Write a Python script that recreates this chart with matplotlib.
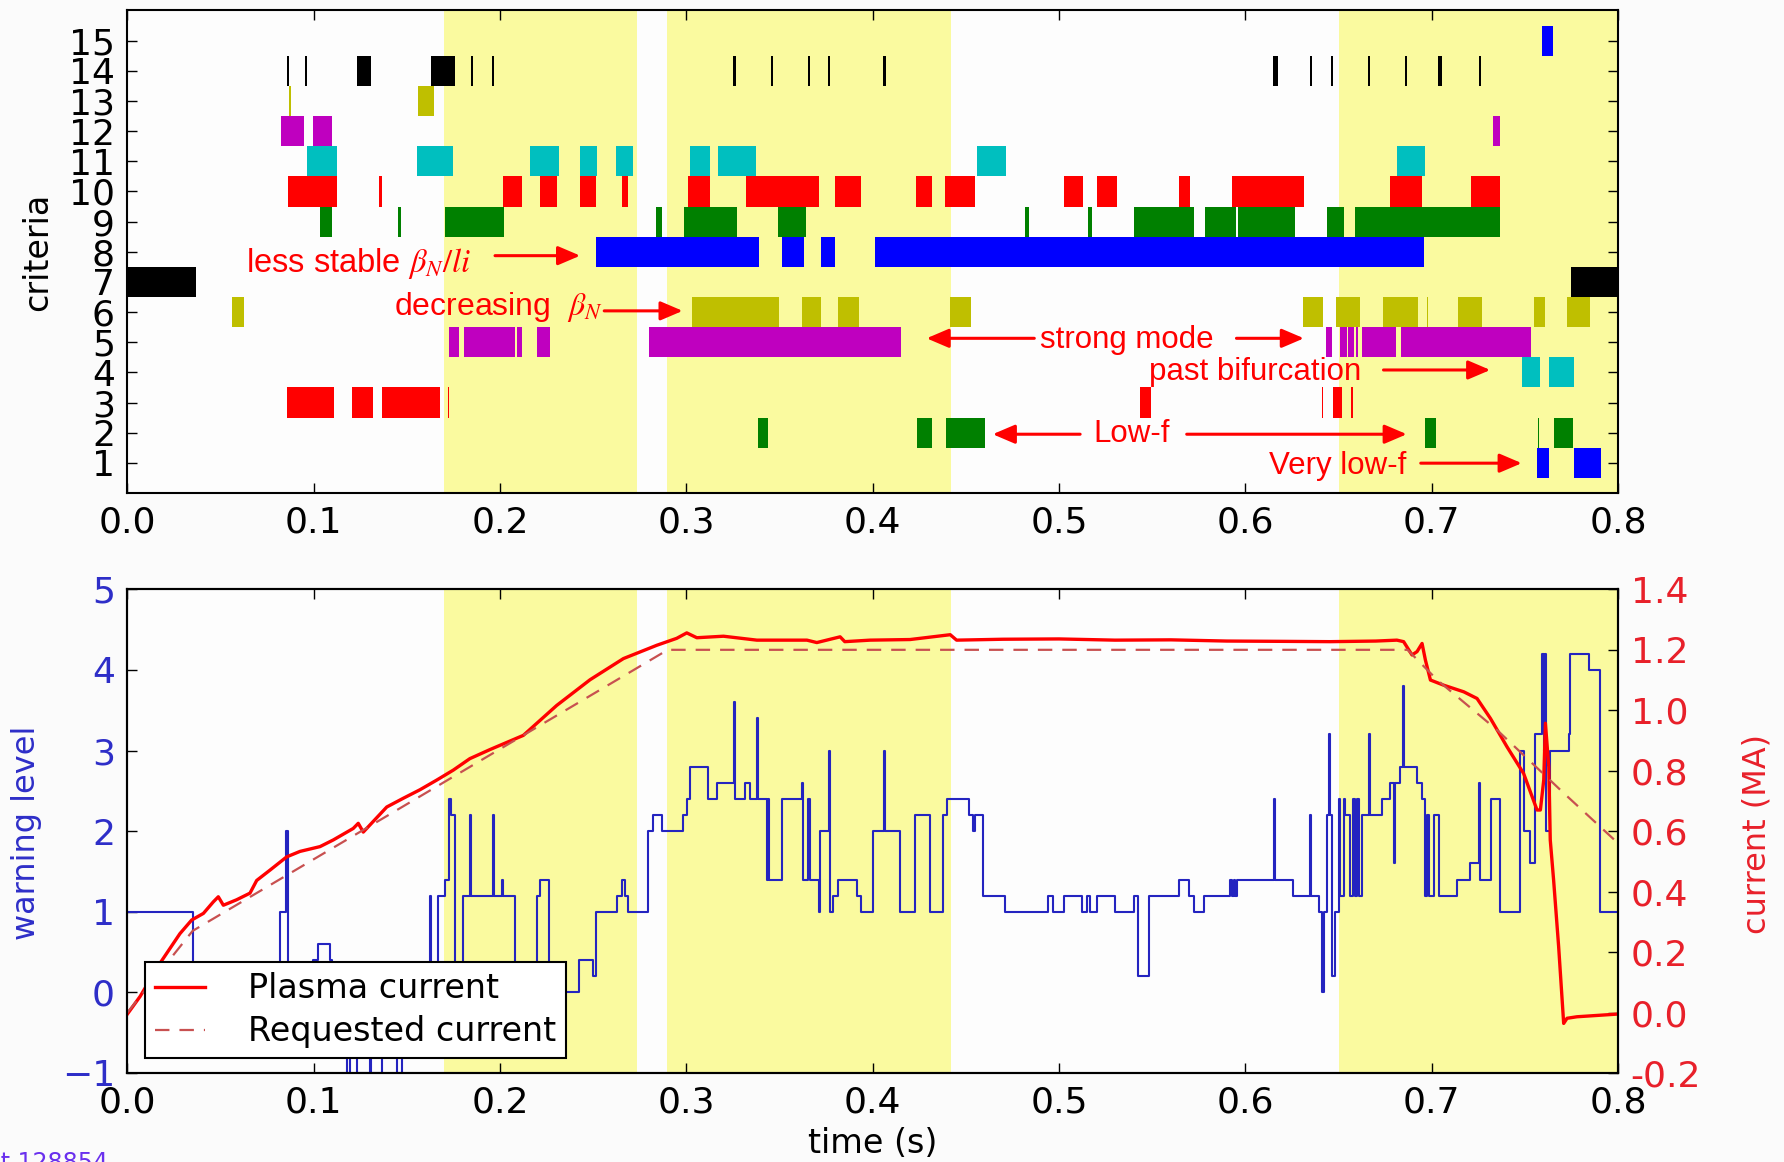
import numpy as np
import matplotlib.pyplot as plt
from matplotlib.ticker import FormatStrFormatter

plt.rcParams['mathtext.fontset'] = 'stix'
plt.rcParams['axes.unicode_minus'] = True

# shaded time windows (s)
shaded = [(0.170, 0.2736), (0.2895, 0.442), (0.650, 0.8)]

# criteria activity, (start, end) in seconds, one list per criterion
crit1 = [(0.7565, 0.7631), (0.7761, 0.7908)]
crit2 = [(0.3383, 0.3440), (0.4240, 0.4317), (0.4394, 0.4603), (0.6965, 0.7023),
         (0.7569, 0.7577), (0.7658, 0.7758)]
crit3 = [(0.0855, 0.1111), (0.1204, 0.1320), (0.1365, 0.1678), (0.1718, 0.1728),
         (0.5435, 0.5494), (0.6411, 0.6419), (0.6468, 0.6521), (0.6568, 0.6576)]
crit4 = [(0.7484, 0.7579), (0.7627, 0.7761)]
crit5 = [(0.1728, 0.1782), (0.1807, 0.2080), (0.2093, 0.2116), (0.2200, 0.2268),
         (0.2802, 0.4151), (0.6434, 0.6464), (0.6505, 0.6545), (0.6552, 0.6584),
         (0.6594, 0.6602), (0.6625, 0.6808), (0.6835, 0.7534)]
crit6 = [(0.0560, 0.0626), (0.3029, 0.3499), (0.3623, 0.3723), (0.3813, 0.3927),
         (0.4416, 0.4527), (0.6308, 0.6414), (0.6486, 0.6613), (0.6741, 0.6926),
         (0.6972, 0.6982), (0.7139, 0.7269), (0.7550, 0.7609), (0.7726, 0.7847)]
crit7 = [(0.0, 0.0368), (0.7747, 0.8)]
crit8 = [(0.2515, 0.3392), (0.3512, 0.3633), (0.3723, 0.3798), (0.4013, 0.6960)]
crit9 = [(0.1034, 0.1098), (0.1454, 0.1469), (0.1707, 0.2022), (0.2836, 0.2871),
         (0.2988, 0.3270), (0.3494, 0.3643), (0.4818, 0.4839), (0.5155, 0.5176),
         (0.5400, 0.5722), (0.5784, 0.5950), (0.5962, 0.6267), (0.6437, 0.6530),
         (0.6586, 0.7364)]
crit10 = [(0.0860, 0.1123), (0.1352, 0.1368), (0.2014, 0.2117), (0.2215, 0.2304),
          (0.2429, 0.2515), (0.2653, 0.2689), (0.3007, 0.3124), (0.3319, 0.3712),
          (0.3798, 0.3936), (0.4233, 0.4317), (0.4389, 0.4550), (0.5024, 0.5131),
          (0.5206, 0.5310), (0.5646, 0.5704), (0.5927, 0.6316), (0.6777, 0.6947),
          (0.7212, 0.7364)]
crit11 = [(0.0966, 0.1123), (0.1556, 0.1746), (0.2161, 0.2318), (0.2429, 0.2519),
          (0.2623, 0.2712), (0.3020, 0.3127), (0.3168, 0.3373), (0.4562, 0.4714),
          (0.6813, 0.6965)]
crit12 = [(0.0826, 0.0948), (0.0998, 0.1098), (0.7329, 0.7364)]
crit13 = [(0.0870, 0.0880), (0.1558, 0.1647)]
crit14 = [(0.0855, 0.0865), (0.0955, 0.0966), (0.1234, 0.1306), (0.1630, 0.1760),
          (0.1845, 0.1857), (0.1958, 0.1970), (0.3252, 0.3264), (0.3452, 0.3464),
          (0.3655, 0.3664), (0.3760, 0.3772), (0.4057, 0.4069), (0.6147, 0.6173),
          (0.6347, 0.6359), (0.6458, 0.6470), (0.6660, 0.6671), (0.6855, 0.6867),
          (0.7036, 0.7056), (0.7254, 0.7265)]
crit15 = [(0.7592, 0.7651)]

criteria = [crit1, crit2, crit3, crit4, crit5, crit6, crit7, crit8,
            crit9, crit10, crit11, crit12, crit13, crit14, crit15]
crit_colors = ['b', 'g', 'r', 'c', 'm', 'y', 'k'] * 3

# warning level, value holds from each time until the next one
warn_t = [0.0, 0.0354, 0.0819, 0.0850, 0.0864, 0.0995, 0.1024, 0.1087, 0.1100, 0.1180,
          0.1195, 0.1231, 0.1300, 0.1308, 0.1365, 0.1445, 0.1472, 0.1544, 0.1624, 0.1632,
          0.1669, 0.1705, 0.1728, 0.1736, 0.1760, 0.1803, 0.1839, 0.1845, 0.1960, 0.1966,
          0.2009, 0.2015, 0.2081, 0.2197, 0.2215, 0.2260, 0.2421, 0.2501, 0.2516, 0.2627,
          0.2653, 0.2671, 0.2689, 0.2796, 0.2823, 0.2868, 0.2984, 0.3002, 0.3020, 0.3118,
          0.3163, 0.3253, 0.3259, 0.3315, 0.3342, 0.3378, 0.3384, 0.3431, 0.3437, 0.3443,
          0.3512, 0.3619, 0.3625, 0.3655, 0.3661, 0.3712, 0.3718, 0.3766, 0.3771, 0.3789,
          0.3816, 0.3914, 0.3936, 0.4004, 0.4060, 0.4066, 0.4144, 0.4228, 0.4308, 0.4379,
          0.4397, 0.4514, 0.4540, 0.4549, 0.4594, 0.4710, 0.4943, 0.4970, 0.5024, 0.5122,
          0.5149, 0.5167, 0.5203, 0.5301, 0.5400, 0.5426, 0.5480, 0.5641, 0.5695, 0.5722,
          0.5776, 0.5919, 0.5930, 0.5937, 0.5946, 0.5955, 0.6151, 0.6160, 0.6258, 0.6348,
          0.6354, 0.6393, 0.6411, 0.6420, 0.6437, 0.6450, 0.6456, 0.6464, 0.6482, 0.6500,
          0.6509, 0.6527, 0.6536, 0.6563, 0.6575, 0.6590, 0.6598, 0.6607, 0.6625, 0.6661,
          0.6667, 0.6733, 0.6777, 0.6795, 0.6804, 0.6831, 0.6846, 0.6852, 0.6921, 0.6948,
          0.6966, 0.6975, 0.6984, 0.7011, 0.7037, 0.7136, 0.7207, 0.7252, 0.7258, 0.7316,
          0.7368, 0.7475, 0.7493, 0.7529, 0.7556, 0.7592, 0.7601, 0.7606, 0.7612, 0.7636,
          0.7735, 0.7744, 0.7842, 0.7905, 0.8]
warn_lvl = [1.0, 0.2, 1.0, 2.0, 0.2, 0.4, 0.6, 0.4, 0.2, -1.0,
            -0.8, -1.0, 0.2, -1.0, -0.8, -1.0, -0.8, 0.2, 1.2, 0.2,
            1.2, 1.4, 2.4, 2.2, 0.2, 1.2, 2.2, 1.2, 2.2, 1.2,
            1.4, 1.2, 0.2, 1.2, 1.4, 0.0, 0.4, 0.2, 1.0, 1.2,
            1.4, 1.2, 1.0, 2.0, 2.2, 2.0, 2.2, 2.4, 2.8, 2.4,
            2.6, 3.6, 2.4, 2.6, 2.4, 3.4, 2.4, 1.4, 2.4, 1.4,
            2.4, 2.6, 1.4, 2.4, 1.4, 1.0, 2.0, 3.0, 1.0, 1.2,
            1.4, 1.2, 1.0, 2.0, 3.0, 2.0, 1.0, 2.2, 1.0, 2.2,
            2.4, 2.2, 2.0, 2.2, 1.2, 1.0, 1.2, 1.0, 1.2, 1.0,
            1.2, 1.0, 1.2, 1.0, 1.2, 0.2, 1.2, 1.4, 1.2, 1.0,
            1.2, 1.4, 1.2, 1.4, 1.2, 1.4, 2.4, 1.4, 1.2, 2.2,
            1.2, 1.0, 0.0, 1.0, 2.2, 3.2, 2.2, 0.2, 1.0, 2.4,
            1.2, 2.4, 2.2, 1.2, 2.4, 1.2, 2.4, 1.2, 2.2, 3.2,
            2.2, 2.4, 2.6, 1.6, 2.6, 2.8, 3.8, 2.8, 2.6, 2.4,
            1.2, 2.2, 1.2, 2.2, 1.2, 1.4, 1.6, 2.6, 1.4, 2.4,
            1.0, 3.0, 2.0, 1.6, 3.2, 4.2, 3.0, 4.2, 2.0, 3.0,
            3.2, 4.2, 4.0, 1.0, 1.0]

# measured plasma current (MA)
ip_t = [0.0, 0.0068, 0.0175, 0.0282, 0.0345, 0.0408, 0.0461, 0.0488, 0.0515, 0.0586,
        0.0658, 0.0694, 0.0765, 0.0855, 0.0926, 0.1034, 0.1105, 0.1212, 0.1239, 0.1266,
        0.1392, 0.1481, 0.1570, 0.1660, 0.1749, 0.1838, 0.1946, 0.2125, 0.2304, 0.2483,
        0.2662, 0.2841, 0.2948, 0.3002, 0.3056, 0.3199, 0.3378, 0.3647, 0.3700, 0.3825,
        0.3850, 0.3986, 0.4200, 0.4416, 0.4450, 0.4700, 0.5000, 0.5300, 0.5600, 0.5900,
        0.6200, 0.6455, 0.6700, 0.6813, 0.6849, 0.6894, 0.6921, 0.6948, 0.6966, 0.6993,
        0.7064, 0.7172, 0.7243, 0.7315, 0.7404, 0.7493, 0.7565, 0.7583, 0.7601, 0.7610,
        0.7628, 0.7636, 0.7654, 0.7681, 0.7708, 0.7726, 0.7779, 0.8]
ip = [-0.005, 0.053, 0.163, 0.261, 0.306, 0.328, 0.366, 0.383, 0.355, 0.373,
      0.395, 0.437, 0.471, 0.515, 0.533, 0.549, 0.571, 0.609, 0.626, 0.597,
      0.680, 0.709, 0.737, 0.769, 0.802, 0.840, 0.870, 0.917, 1.016, 1.101,
      1.171, 1.215, 1.238, 1.256, 1.240, 1.245, 1.232, 1.232, 1.224, 1.243,
      1.227, 1.232, 1.234, 1.250, 1.232, 1.235, 1.236, 1.232, 1.233, 1.229,
      1.228, 1.227, 1.229, 1.232, 1.227, 1.183, 1.194, 1.221, 1.166, 1.100,
      1.083, 1.061, 1.039, 0.973, 0.879, 0.791, 0.670, 0.670, 0.769, 0.957,
      0.813, 0.571, 0.438, 0.218, -0.036, -0.019, -0.014, -0.005]

# requested current (MA)
req_t = [0.0, 0.035, 0.29, 0.687, 0.703, 0.735, 0.771, 0.8]
req = [0.0, 0.27, 1.2, 1.2, 1.1, 0.935, 0.725, 0.56]

# red call-outs on the criteria panel: text, size, text x, baseline y, arrows (x_from, x_to, y)
notes = [
    (r'less stable $\beta_N/li$', 23.5, 0.0635, 7.34, [(0.1973, 0.2430, 7.87)]),
    (r'decreasing  $\beta_N$', 23.0, 0.1429, 5.90, [(0.2559, 0.2980, 6.04)]),
    ('strong mode', 22.5, 0.4898, 4.80, [(0.4867, 0.4289, 5.13), (0.5952, 0.6314, 5.13)]),
    ('past bifurcation', 22.5, 0.5484, 3.74, [(0.6741, 0.7314, 4.08)]),
    ('Low-f', 22.5, 0.5184, 1.69, [(0.5113, 0.4644, 1.95), (0.5685, 0.6866, 1.95)]),
    ('Very low-f', 22.5, 0.6129, 0.64, [(0.6941, 0.7483, 0.99)]),
]

span_color = '#fafa9f'
blue_txt = '#2e2ec8'
red_txt = '#e8202a'

fig = plt.figure(figsize=(17.84, 11.62), dpi=100)
fig.patch.set_facecolor('#fbfbfb')

# ---- criteria panel ----
ax1 = fig.add_axes([0.0714, 0.5757, 0.8356, 0.4153])
for a, b in shaded:
    ax1.axvspan(a, b, color=span_color, lw=0, zorder=0)
for k, segs in enumerate(criteria):
    ax1.broken_barh([(a, b - a) for a, b in segs], (k + 0.5, 1.0),
                    facecolors=crit_colors[k], linewidth=0, zorder=2)

for text, size, tx, ty, arrows in notes:
    ax1.text(tx, ty, text, color='red', fontsize=size, family='Liberation Sans',
             va='baseline', ha='left', zorder=5)
    for x0, x1, y in arrows:
        ax1.annotate('', xy=(x1, y), xytext=(x0, y),
                     arrowprops=dict(arrowstyle='-|>,head_length=0.75,head_width=0.32',
                                     color='red', lw=2.2, mutation_scale=18,
                                     shrinkA=0, shrinkB=0), zorder=5)

ax1.set_xlim(0, 0.8)
ax1.set_ylim(0, 16)
ax1.set_yticks(range(1, 16))
ax1.set_xticks(np.arange(0, 0.81, 0.1))
ax1.xaxis.set_major_formatter(FormatStrFormatter('%.1f'))
ax1.tick_params(direction='in', top=True, right=True, length=7, width=1,
                labelsize=26, pad=9)
ax1.set_ylabel('criteria', fontsize=24)
ax1.yaxis.set_label_coords(-0.049, 0.5)
ax1.set_facecolor('#fdfdfd')
for s in ax1.spines.values():
    s.set_linewidth(1.5)

# ---- warning level / current panel ----
ax = fig.add_axes([0.0714, 0.0766, 0.8356, 0.4162])
ax.set_facecolor('#fdfdfd')
for a, b in shaded:
    ax.axvspan(a, b, color=span_color, lw=0, zorder=0)
ax.plot(warn_t, warn_lvl, drawstyle='steps-post', color='#2424c0', lw=1.5, zorder=2)
ax.set_xlim(0, 0.8)
ax.set_ylim(-1, 5)
ax.set_xticks(np.arange(0, 0.81, 0.1))
ax.xaxis.set_major_formatter(FormatStrFormatter('%.1f'))
ax.tick_params(direction='in', top=True, right=False, length=7, width=1,
               labelsize=26, pad=9)
ax.tick_params(axis='y', labelcolor=blue_txt)
ax.set_ylabel('warning level', fontsize=23, color=blue_txt)
ax.yaxis.set_label_coords(-0.057, 0.496)
ax.set_xlabel('time (s)', fontsize=24)
ax.xaxis.set_label_coords(0.5, -0.112)
for s in ax.spines.values():
    s.set_linewidth(1.5)

ax2 = ax.twinx()
l1, = ax2.plot(ip_t, ip, color='red', lw=2.4, label='Plasma current')
l2, = ax2.plot(req_t, req, color='#c85050', lw=1.6, ls=(0, (6.5, 4.5)),
               label='Requested current')
ax2.set_ylim(-0.2, 1.4)
ax2.set_yticks(np.arange(-0.2, 1.41, 0.2))
ax2.yaxis.set_major_formatter(FormatStrFormatter('%.1f'))
ax2.tick_params(direction='in', length=7, width=1, labelsize=26, pad=9,
                labelcolor=red_txt)
ax2.set_ylabel('current (MA)', fontsize=23, color=red_txt)
ax2.yaxis.set_label_coords(1.083, 0.494)
for s in ax2.spines.values():
    s.set_linewidth(1.5)

leg = ax2.legend(handles=[l1, l2], loc='lower left', bbox_to_anchor=(0.0115, 0.03),
                 borderaxespad=0, fontsize=24, fancybox=False, framealpha=1,
                 edgecolor='black', borderpad=0.3, labelspacing=0.3,
                 handlelength=1.5, handletextpad=1.3)
leg.get_frame().set_linewidth(1.5)

fig.text(0.0606, 0.0098, 'shot 128854', color='#6a30ee', fontsize=17,
         ha='right', va='top')

plt.savefig('out.png', dpi=100, facecolor=fig.get_facecolor())
